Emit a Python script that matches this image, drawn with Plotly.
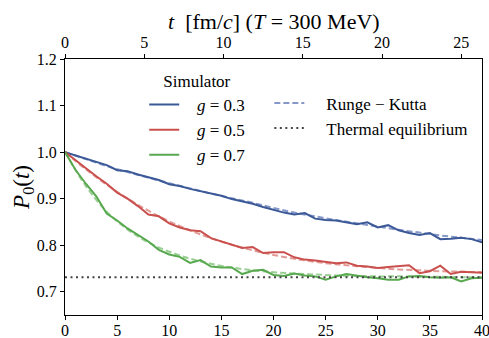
import plotly.graph_objects as go

# ---------------- data ----------------
t_sim = list(range(0, 41))
sim_g03 = [1.000, 0.993, 0.986, 0.979, 0.972, 0.961, 0.959, 0.952, 0.946, 0.940,
           0.931, 0.927, 0.921, 0.916, 0.910, 0.906, 0.899, 0.894, 0.889, 0.882,
           0.876, 0.870, 0.866, 0.869, 0.857, 0.854, 0.853, 0.849, 0.845, 0.849,
           0.838, 0.843, 0.832, 0.826, 0.822, 0.826, 0.813, 0.814, 0.816, 0.813,
           0.806]
sim_g05 = [1.000, 0.982, 0.965, 0.948, 0.932, 0.913, 0.900, 0.884, 0.866, 0.862,
           0.847, 0.838, 0.832, 0.830, 0.815, 0.808, 0.801, 0.794, 0.796, 0.783,
           0.785, 0.785, 0.774, 0.769, 0.767, 0.764, 0.761, 0.763, 0.756, 0.754,
           0.751, 0.753, 0.755, 0.757, 0.740, 0.744, 0.756, 0.738, 0.743, 0.742,
           0.741]
sim_g07 = [1.000, 0.962, 0.932, 0.905, 0.868, 0.853, 0.836, 0.822, 0.808, 0.790,
           0.780, 0.775, 0.762, 0.768, 0.754, 0.752, 0.752, 0.738, 0.745, 0.747,
           0.736, 0.734, 0.739, 0.735, 0.733, 0.726, 0.733, 0.738, 0.734, 0.731,
           0.729, 0.726, 0.726, 0.733, 0.734, 0.731, 0.730, 0.731, 0.722, 0.729,
           0.730]

t_rk = [0, 2, 4, 6, 8, 10, 12, 14, 16, 18, 20, 22, 24, 26, 28, 30, 32, 34, 36, 38, 40]
rk_g03 = [1.000, 0.985, 0.970, 0.957, 0.945, 0.933, 0.922, 0.911, 0.901, 0.891,
          0.880, 0.870, 0.862, 0.854, 0.847, 0.840, 0.833, 0.827, 0.821, 0.816, 0.811]
rk_g05 = [1.000, 0.963, 0.930, 0.900, 0.874, 0.851, 0.832, 0.815, 0.801, 0.789,
          0.779, 0.771, 0.764, 0.759, 0.755, 0.751, 0.748, 0.746, 0.744, 0.743, 0.742]
rk_g07 = [1.000, 0.927, 0.872, 0.834, 0.806, 0.786, 0.771, 0.760, 0.752, 0.746,
          0.742, 0.739, 0.737, 0.735, 0.734, 0.733, 0.733, 0.732, 0.732, 0.731, 0.731]

t_eq = [0, 40]
p_eq = [0.731, 0.731]

x_ticks = [0, 5, 10, 15, 20, 25, 30, 35, 40]
y_ticks = [0.7, 0.8, 0.9, 1.0, 1.1, 1.2]
top_ticks = [0, 5, 10, 15, 20, 25]
fm_per_unit = 0.6577  # hbar c / T  for T = 300 MeV

labels = ["<i>g</i> = 0.3", "<i>g</i> = 0.5", "<i>g</i> = 0.7"]
sim_colors = ["#3b5897", "#c9504d", "#58a84f"]
rk_colors = ["#8698c9", "#e29a97", "#9acf93"]

FONT = "'Liberation Serif', 'Times New Roman', 'DejaVu Serif', serif"
PAD1 = "&nbsp;&nbsp;&nbsp;"
PAD2 = "&nbsp;&nbsp;&nbsp;&nbsp;"
PADT = "&nbsp;&nbsp;&nbsp;&nbsp;"

fig = go.Figure()

for i, ysr in enumerate([rk_g03, rk_g05, rk_g07]):
    fig.add_trace(go.Scatter(
        x=t_rk, y=ysr, mode="lines", line=dict(color=rk_colors[i], width=2, dash="6px,3px", shape="spline"),
        name=PAD2 + "Runge − Kutta", legend="legend2", legendgroup="rk",
        showlegend=(i == 0), hoverinfo="skip"))

for i, ys in enumerate([sim_g03, sim_g05, sim_g07]):
    fig.add_trace(go.Scatter(
        x=t_sim, y=ys, mode="lines", line=dict(color=sim_colors[i], width=2),
        name=PAD1 + labels[i], legend="legend", legendgroup="s%d" % i))

fig.add_trace(go.Scatter(
    x=t_eq, y=p_eq, mode="lines", line=dict(color="#444444", width=2, dash="2px,3.5px"),
    name=PAD2 + "Thermal equilibrium", legend="legend2", legendgroup="eq"))

# invisible traces to activate the top axis and right frame
fig.add_trace(go.Scatter(x=[0, 40 * fm_per_unit], y=[0.7, 0.7], xaxis="x2", mode="lines",
                         line=dict(width=0), opacity=0, showlegend=False, hoverinfo="skip"))
fig.add_trace(go.Scatter(x=[0, 40], y=[0.7, 0.7], yaxis="y2", mode="lines",
                         line=dict(width=0), opacity=0, showlegend=False, hoverinfo="skip"))

axis_common = dict(showgrid=False, zeroline=False, showline=True, linecolor="black",
                   linewidth=1.2, ticks="outside", ticklen=4, tickcolor="black", automargin=False,
                   ticklabeloverflow="allow",
                   tickfont=dict(family=FONT, size=16, color="black"))

fig.update_layout(
    width=489, height=338,
    margin=dict(l=65, r=7, t=59, b=23),
    paper_bgcolor="white", plot_bgcolor="white",
    font=dict(family=FONT, size=16, color="black"),
    xaxis=dict(range=[0, 40], tickvals=x_ticks, ticklabelstandoff=-3, **axis_common),
    xaxis2=dict(range=[0, 40 * fm_per_unit], tickvals=top_ticks, overlaying="x", side="top",
                **axis_common),
    yaxis=dict(range=[0.65, 1.2], tickvals=y_ticks, tickformat=".1f", **axis_common),
    yaxis2=dict(overlaying="y", side="right", range=[0.65, 1.2], showline=True,
                linecolor="black", linewidth=1.2, showticklabels=False, ticks="",
                showgrid=False, zeroline=False, automargin=False),
    legend=dict(x=0.19, y=0.977, xanchor="left", yanchor="top", bgcolor="rgba(255,255,255,0)",
                title=dict(text=PADT + "Simulator", font=dict(family=FONT, size=17)),
                font=dict(family=FONT, size=17), tracegroupgap=0, traceorder="grouped"),
    legend2=dict(x=0.49, y=0.897, xanchor="left", yanchor="top", bgcolor="rgba(255,255,255,0)",
                 font=dict(family=FONT, size=17), tracegroupgap=0, traceorder="grouped"),
    showlegend=True,
    annotations=[
        dict(text="<i>t</i>  [fm/<i>c</i>] (<i>T</i> = 300 MeV)", xref="paper", yref="paper",
             x=0.5, y=1.145, xanchor="center", yanchor="middle", showarrow=False,
             font=dict(family=FONT, size=22, color="black")),
        dict(text="<i>P</i><sub>0</sub>(<i>t</i>)", xref="paper", yref="paper",
             x=-0.101, y=0.5, xanchor="center", yanchor="middle", textangle=-90, showarrow=False,
             font=dict(family=FONT, size=23, color="black")),
    ],
)

# remove the browser's default page margin so the 489x338 figure fills the window exactly
fig.write_html("out.html", config={"displayModeBar": False},
               post_script="document.body.style.margin='0';document.body.style.overflow='hidden';")
